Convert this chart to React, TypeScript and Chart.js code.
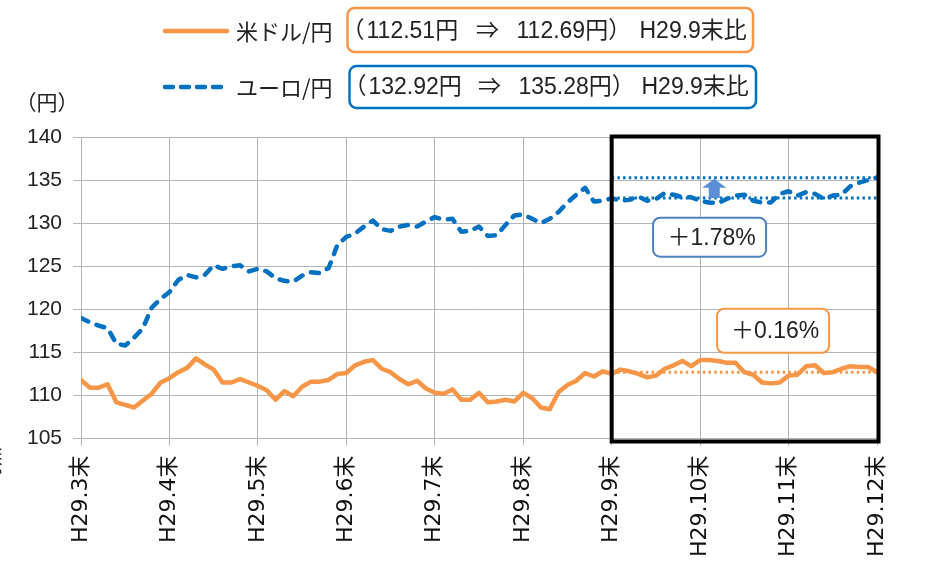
import React, { useEffect, useRef } from 'react';
import { Chart, registerables } from 'chart.js';

Chart.register(...registerables);

// ---- data ----
const monthLabels = ['H29.3末', 'H29.4末', 'H29.5末', 'H29.6末', 'H29.7末', 'H29.8末', 'H29.9末', 'H29.10末', 'H29.11末', 'H29.12末'];
const pointsPerMonth = 10;

const usdJpy = [
  111.8, 110.9, 110.9, 111.3, 109.2, 108.9, 108.6, 109.4, 110.2, 111.5,
  112.0, 112.7, 113.2, 114.3, 113.6, 113.0, 111.5, 111.5, 111.9, 111.5,
  111.1, 110.6, 109.5, 110.5, 109.9, 111.0, 111.6, 111.6, 111.8, 112.5,
  112.6, 113.5, 113.9, 114.1, 113.1, 112.7, 111.9, 111.3, 111.7, 110.8,
  110.3, 110.2, 110.7, 109.5, 109.5, 110.3, 109.2, 109.3, 109.5, 109.3,
  110.3, 109.7, 108.6, 108.4, 110.4, 111.2, 111.7, 112.6, 112.2, 112.8,
  112.5, 113.0, 112.8, 112.5, 112.1, 112.3, 113.1, 113.5, 114.0, 113.4,
  114.1, 114.1, 114.0, 113.8, 113.8, 112.7, 112.4, 111.5, 111.4, 111.5,
  112.3, 112.4, 113.4, 113.5, 112.6, 112.7, 113.1, 113.4, 113.3, 113.3,
  112.7,
];

const eurJpy = [
  119.0, 118.5, 118.1, 117.8, 116.0, 115.8, 116.7, 117.8, 120.2, 121.2,
  122.0, 123.4, 124.0, 123.7, 124.0, 125.1, 124.7, 125.0, 125.1, 124.4,
  124.7, 124.4, 123.6, 123.3, 123.2, 123.9, 124.3, 124.2, 124.8, 127.5,
  128.4, 128.8, 129.6, 130.3, 129.3, 129.1, 129.6, 129.8, 129.6, 130.2,
  130.7, 130.4, 130.5, 129.0, 129.1, 129.6, 128.5, 128.6, 129.8, 130.9,
  131.0, 130.5, 130.0, 130.5, 131.3, 132.4, 133.3, 134.1, 132.5, 132.6,
  132.9, 132.6, 132.7, 133.1, 132.6, 132.8, 133.5, 133.3, 133.0, 133.0,
  132.6, 132.4, 132.3, 132.8, 133.2, 133.3, 132.6, 132.4, 132.4, 133.4,
  133.7, 133.2, 133.6, 133.4, 132.8, 133.2, 133.3, 134.3, 134.7, 135.0,
  135.3,
];

const usdFrom = 112.51;
const usdTo = 112.69;
const eurFrom = 132.92;
const eurTo = 135.28;
const usdChangeText = '＋0.16%';
const eurChangeText = '＋1.78%';
const usdName = '米ドル/円';
const eurName = 'ユーロ/円';
const baseLabel = 'H29.9末比';
const yUnit = '（円）';
const yMin = 105;
const yMax = 140;
const yStep = 5;
const compareStartMonth = 6; // H29.9末

// ---- styles ----
const ORANGE = '#F79646';
const BLUE = '#0070C0';
const BLUE_SOFT = '#4F81BD';
const ARROW = '#5A8ED6';
const GRID = '#b4b4b4';
const TEXT = '#222222';
const LATIN = '"Liberation Sans", "Noto Sans CJK JP", sans-serif';
const CJK = '"Noto Sans CJK JP", "Liberation Sans", sans-serif';

function roundRect(ctx: CanvasRenderingContext2D, x: number, y: number, w: number, h: number, r: number) {
  ctx.beginPath();
  ctx.moveTo(x + r, y);
  ctx.arcTo(x + w, y, x + w, y + h, r);
  ctx.arcTo(x + w, y + h, x, y + h, r);
  ctx.arcTo(x, y + h, x, y, r);
  ctx.arcTo(x, y, x + w, y, r);
  ctx.closePath();
}

const overlayPlugin = {
  id: 'overlay',
  afterDraw(chart: any) {
    const ctx: CanvasRenderingContext2D = chart.ctx;
    const xs = chart.scales.x;
    const ys = chart.scales.y;
    const lastIdx = (monthLabels.length - 1) * pointsPerMonth;
    const startIdx = compareStartMonth * pointsPerMonth;

    ctx.save();
    // comparison frame
    const bl = xs.getPixelForValue(startIdx);
    const br = xs.getPixelForValue(lastIdx) + 1.5;
    ctx.strokeStyle = '#000';
    ctx.lineWidth = 4;
    ctx.strokeRect(bl, ys.top - 0.5, br - bl, ys.bottom - ys.top + 3.5);

    // up arrow
    const ax = xs.getPixelForValue(startIdx + 11.6);
    const tipY = ys.getPixelForValue(eurTo) + 1;
    const baseY = ys.getPixelForValue(eurFrom);
    ctx.fillStyle = ARROW;
    ctx.beginPath();
    ctx.moveTo(ax, tipY);
    ctx.lineTo(ax + 12, tipY + 9);
    ctx.lineTo(ax + 5.5, tipY + 9);
    ctx.lineTo(ax + 5.5, baseY);
    ctx.lineTo(ax - 5.5, baseY);
    ctx.lineTo(ax - 5.5, tipY + 9);
    ctx.lineTo(ax - 12, tipY + 9);
    ctx.closePath();
    ctx.fill();

    // change labels
    const drawTag = (cx: number, cy: number, w: number, h: number, color: string, text: string) => {
      roundRect(ctx, cx - w / 2, cy - h / 2, w, h, 7);
      ctx.fillStyle = '#fff';
      ctx.fill();
      ctx.strokeStyle = color;
      ctx.lineWidth = 2;
      ctx.stroke();
      ctx.fillStyle = TEXT;
      ctx.font = `23px ${LATIN}`;
      ctx.textAlign = 'center';
      ctx.textBaseline = 'middle';
      ctx.fillText(text, cx + 2, cy + 1);
    };
    drawTag(xs.getPixelForValue(startIdx + 11.07), ys.getPixelForValue(128.37), 113, 39, BLUE_SOFT, eurChangeText);
    drawTag(xs.getPixelForValue(startIdx + 18.25), ys.getPixelForValue(117.5), 112, 44, ORANGE, usdChangeText);

    // y unit
    ctx.fillStyle = TEXT;
    ctx.font = `21px ${CJK}`;
    ctx.textAlign = 'center';
    ctx.textBaseline = 'middle';
    ctx.fillText(yUnit, 47, 102);

    // legend
    const legendRow = (y: number, color: string, dashed: boolean, name: string, from: number, to: number, boxTop: number, boxBottom: number, boxRight: number, boxLeft: number) => {
      ctx.strokeStyle = color;
      ctx.lineWidth = 4.5;
      ctx.lineCap = 'round';
      ctx.setLineDash(dashed ? [8, 8] : []);
      ctx.beginPath();
      ctx.moveTo(165, y);
      ctx.lineTo(227, y);
      ctx.stroke();
      ctx.setLineDash([]);
      ctx.lineCap = 'butt';

      ctx.fillStyle = TEXT;
      ctx.textBaseline = 'middle';
      ctx.textAlign = 'left';
      ctx.font = `22px ${CJK}`;
      ctx.fillText(name, 236, y + 1);

      roundRect(ctx, boxLeft, boxTop, boxRight - boxLeft, boxBottom - boxTop, 7);
      ctx.strokeStyle = color;
      ctx.lineWidth = 2.5;
      ctx.stroke();

      ctx.fillStyle = TEXT;
      ctx.font = `23px ${LATIN}`;
      ctx.textAlign = 'left';
      ctx.fillText('（', boxLeft - 6, y + 1);
      ctx.fillText(`${from.toFixed(2)}円`, boxLeft + 19, y + 1);
      ctx.textAlign = 'center';
      ctx.fillText('⇒', boxLeft + 140, y + 1);
      ctx.textAlign = 'left';
      ctx.fillText(`${to.toFixed(2)}円）`, boxLeft + 169, y + 1);
      ctx.fillText(baseLabel, boxLeft + 292, y + 1);
    };
    legendRow(31, ORANGE, false, usdName, usdFrom, usdTo, 8, 52, 753, 347.5);
    legendRow(87, BLUE, true, eurName, eurFrom, eurTo, 66, 108, 756, 349.5);

    // clipped side note at the left edge
    ctx.save();
    ctx.translate(-5, 510);
    ctx.rotate(-Math.PI / 2);
    ctx.fillStyle = TEXT;
    ctx.font = `19px ${LATIN}`;
    ctx.textAlign = 'center';
    ctx.textBaseline = 'middle';
    ctx.fillText('H29.12.29時点', 0, 0);
    ctx.restore();

    ctx.restore();
  },
};

export default function App() {
  const ref = useRef<HTMLCanvasElement | null>(null);

  useEffect(() => {
    if (!ref.current) return;
    const startIdx = compareStartMonth * pointsPerMonth;
    const lastIdx = (monthLabels.length - 1) * pointsPerMonth;
    const hline = (v: number) => [{ x: startIdx, y: v }, { x: lastIdx, y: v }];

    const chart = new Chart(ref.current, {
      type: 'line',
      data: {
        datasets: [
          {
            label: usdName,
            data: usdJpy.map((y, i) => ({ x: i, y })),
            borderColor: ORANGE,
            borderWidth: 4.5,
            pointRadius: 0,
            tension: 0,
            borderJoinStyle: 'round',
            borderCapStyle: 'round',
          },
          {
            label: eurName,
            data: eurJpy.map((y, i) => ({ x: i, y })),
            borderColor: BLUE,
            borderWidth: 4.5,
            borderDash: [8, 9],
            pointRadius: 0,
            tension: 0,
            borderJoinStyle: 'round',
            borderCapStyle: 'round',
          },
          {
            label: 'eurTo',
            data: hline(eurTo),
            borderColor: BLUE,
            borderWidth: 3,
            borderDash: [2.5, 3.2],
            pointRadius: 0,
          },
          {
            label: 'eurFrom',
            data: hline(eurFrom),
            borderColor: BLUE,
            borderWidth: 3,
            borderDash: [2.5, 3.2],
            pointRadius: 0,
          },
          {
            label: 'usdTo',
            data: hline(usdTo),
            borderColor: ORANGE,
            borderWidth: 3,
            borderDash: [2.5, 3.2],
            pointRadius: 0,
          },
        ],
      },
      options: {
        animation: false,
        responsive: false,
        devicePixelRatio: 1,
        layout: { padding: { top: 137, right: 74, left: 0, bottom: 0 } },
        plugins: { legend: { display: false }, tooltip: { enabled: false }, title: { display: false } },
        scales: {
          x: {
            type: 'linear',
            min: 0,
            max: lastIdx,
            ticks: {
              stepSize: pointsPerMonth,
              autoSkip: false,
              minRotation: 90,
              maxRotation: 90,
              padding: 10,
              color: '#111',
              font: { family: '"DejaVu Sans", "Noto Sans CJK JP", sans-serif', size: 22 },
              callback: (v: any) => {
                const k = Number(v) / pointsPerMonth;
                return Number.isInteger(k) ? monthLabels[k] ?? '' : '';
              },
            },
            grid: { color: GRID, lineWidth: 1, tickLength: 7 },
            border: { color: GRID, width: 1 },
            afterFit: (s: any) => {
              s.height = 131.5;
            },
          },
          y: {
            min: yMin,
            max: yMax,
            ticks: {
              stepSize: yStep,
              padding: 11,
              color: TEXT,
              font: { family: LATIN, size: 21 },
            },
            grid: { color: GRID, lineWidth: 1, tickLength: 8 },
            border: { color: GRID, width: 1 },
            afterFit: (s: any) => {
              s.width = 81;
            },
          },
        },
      },
      plugins: [overlayPlugin],
    } as any);

    return () => chart.destroy();
  }, []);

  return (
    <div style={{ position: 'fixed', left: 0, top: 0, width: 951, height: 570, background: '#fff' }}>
      <canvas ref={ref} width={951} height={570} style={{ width: 951, height: 570, display: 'block' }} />
    </div>
  );
}
